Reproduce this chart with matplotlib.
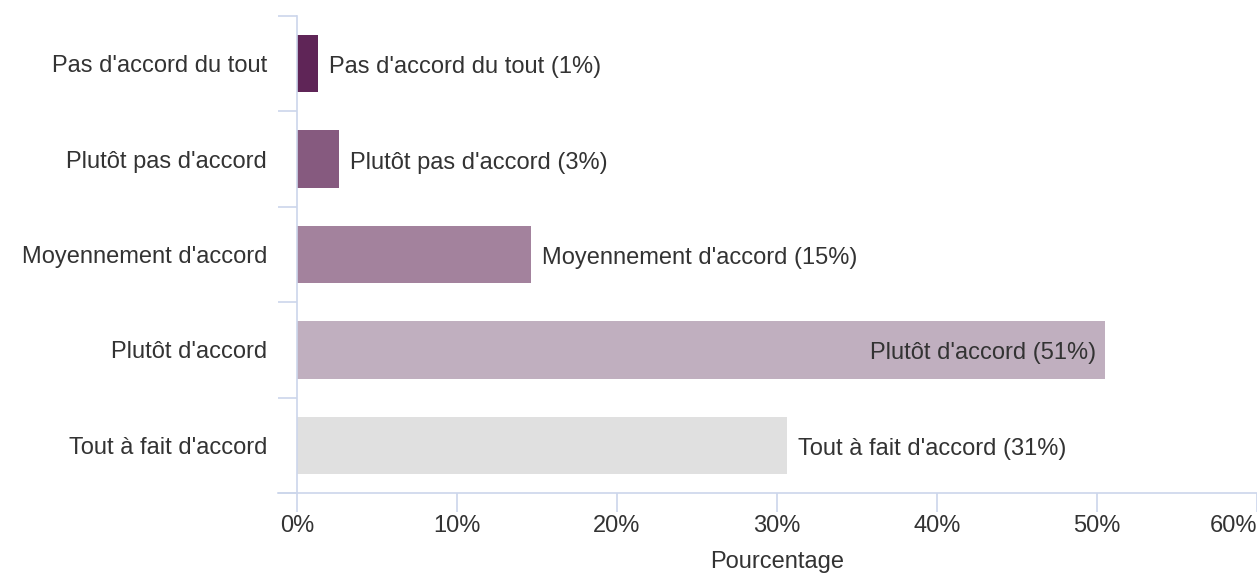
import matplotlib.pyplot as plt
from matplotlib.lines import Line2D

categories = ["Pas d'accord du tout", "Plutôt pas d'accord", "Moyennement d'accord",
              "Plutôt d'accord", "Tout à fait d'accord"]
values = [1.3, 2.6, 14.6, 50.5, 30.6]
labels_pct = [1, 3, 15, 51, 31]
colors = ["#5f2557", "#865a7f", "#a3829d", "#c0afbf", "#e0e0e0"]
xticks = [0, 10, 20, 30, 40, 50, 60]

plt.rcParams['font.family'] = ['Liberation Sans', 'DejaVu Sans']
axis_col = "#ccd6eb"
text_col = "#333333"
fs = 17

fig = plt.figure(figsize=(12.57, 5.74), dpi=100)
W, H = 1257, 574
ax = fig.add_axes([297 / W, 1 - 493 / H, 960 / W, 477 / H])

ypos = list(range(len(categories)))
ax.barh(ypos, values, height=0.6, color=colors, zorder=2)
ax.set_ylim(4.5, -0.5)
ax.set_xlim(0, 60)

for y, v, p, c in zip(ypos, values, labels_pct, categories):
    txt = "%s (%d%%)" % (c, p)
    if v > 40:
        ax.annotate(txt, (v, y), xytext=(-9, -1), textcoords="offset pixels",
                    ha="right", va="center_baseline", fontsize=fs, color=text_col)
    else:
        ax.annotate(txt, (v, y), xytext=(11, -1), textcoords="offset pixels",
                    ha="left", va="center_baseline", fontsize=fs, color=text_col)

for s in ["top", "right"]:
    ax.spines[s].set_visible(False)
for s in ["left", "bottom"]:
    ax.spines[s].set_color(axis_col)
    ax.spines[s].set_linewidth(1.2)

# bottom line reaches out under the tick labels
ax.add_line(Line2D([-19 / 960, 0], [0, 0], transform=ax.transAxes,
                   color=axis_col, lw=1.2, clip_on=False))

ax.set_yticks(ypos)
ax.set_yticklabels(categories, fontsize=fs, color=text_col)
for t in ax.get_yticklabels():
    t.set_verticalalignment("center_baseline")
ax.set_yticks([i - 0.5 for i in range(len(categories) + 1)], minor=True)
ax.tick_params(axis="y", which="major", length=0, pad=21.5)
ax.tick_params(axis="y", which="minor", length=13.7, width=1.2, color=axis_col)

ax.set_xticks(xticks)
ax.set_xticklabels(["%d%%" % t for t in xticks], fontsize=fs, color=text_col)
ax.tick_params(axis="x", length=13.7, width=1.2, color=axis_col, pad=2.5)
last = ax.get_xticklabels()[-1]
last.set_horizontalalignment("right")
last.set_x(60)
ax.set_xlabel("Pourcentage", fontsize=fs, color=text_col, labelpad=10)

fig.savefig("out.png", dpi=100)
